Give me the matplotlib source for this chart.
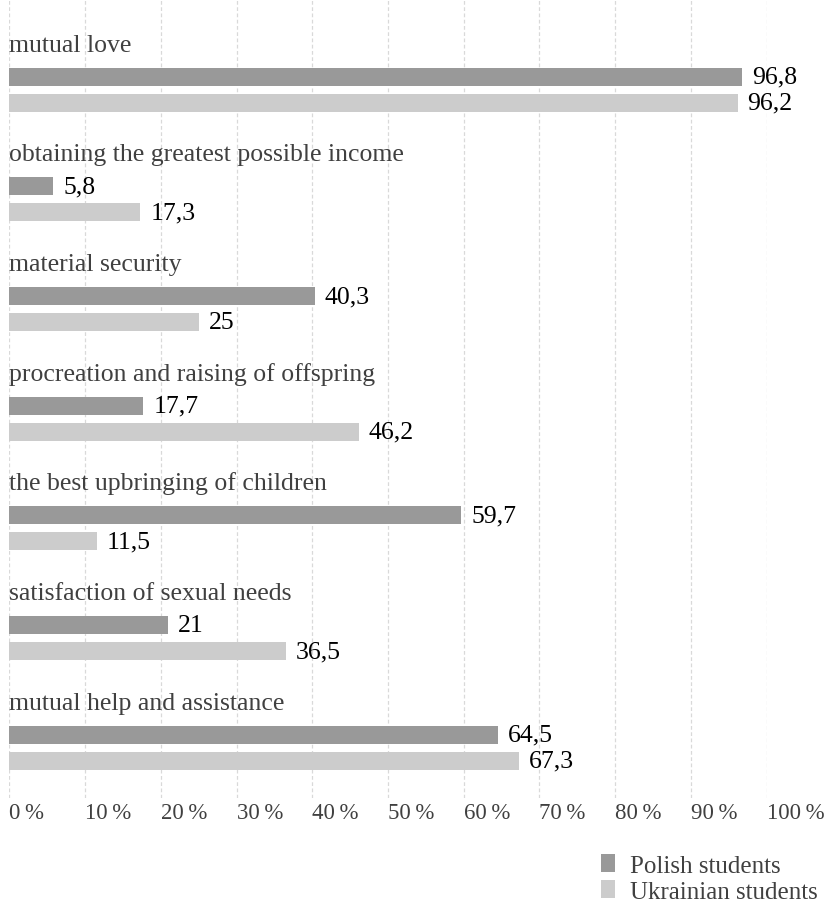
import matplotlib
matplotlib.use("Agg")
import matplotlib.pyplot as plt
import numpy as np

plt.rcParams['font.family'] = ['Liberation Serif', 'DejaVu Serif']

# survey results, percent of respondents
categories = ['mutual love',
              'obtaining the greatest possible income',
              'material security',
              'procreation and raising of offspring',
              'the best upbringing of children',
              'satisfaction of sexual needs',
              'mutual help and assistance']
polish = [96.8, 5.8, 40.3, 17.7, 59.7, 21, 64.5]
ukrainian = [96.2, 17.3, 25, 46.2, 11.5, 36.5, 67.3]
series_names = ['Polish students', 'Ukrainian students']
ticks = list(range(0, 101, 10))

col_pl = '#999999'
col_ua = '#cccccc'


def fmt(v):
    # decimal comma, drop trailing ,0
    s = ('%g' % v)
    return s.replace('.', ',')


fig = plt.figure(figsize=(8.25, 9.04), dpi=100)
ax = fig.add_axes([0.0115, 0.1162, 0.9176, 0.8838])

pos = np.arange(len(categories))
off = 0.237
h = 0.164

b1 = ax.barh(pos, polish, height=h, color=col_pl, label=series_names[0], zorder=2)
b2 = ax.barh(pos + off, ukrainian, height=h, color=col_ua, label=series_names[1], zorder=2)

for i, name in enumerate(categories):
    ax.text(0, pos[i] - off, name, ha='left', va='baseline',
            fontsize=18.5, color='#404040')
    ax.annotate(fmt(polish[i]), (polish[i], pos[i]), xytext=(7, 0),
                textcoords='offset points', ha='left', va='center',
                fontsize=18.5, color='black')
    ax.annotate(fmt(ukrainian[i]), (ukrainian[i], pos[i] + off), xytext=(7, 0),
                textcoords='offset points', ha='left', va='center',
                fontsize=18.5, color='black')

ax.set_xlim(0, 100)
ax.set_ylim(6.576, -0.707)
ax.set_xticks(ticks)
ax.set_xticklabels(['%d\u2009%%' % t for t in ticks], ha='left', fontsize=16.5, color='#404040')
ax.tick_params(axis='x', length=0, pad=3)
ax.set_yticks([])
for s in ax.spines.values():
    s.set_visible(False)
ax.grid(axis='x', color='#d9d9d9', linewidth=0.9, linestyle=(0, (3, 2)), zorder=0)
ax.set_axisbelow(True)

fig.legend(handles=[b1, b2], loc='upper left', bbox_to_anchor=(0.729, 0.054),
           frameon=False, fontsize=18, handlelength=0.55, handleheight=0.7,
           handletextpad=0.6, labelspacing=0.15, borderpad=0, borderaxespad=0,
           labelcolor='#404040')

fig.savefig('out.png', dpi=100)
